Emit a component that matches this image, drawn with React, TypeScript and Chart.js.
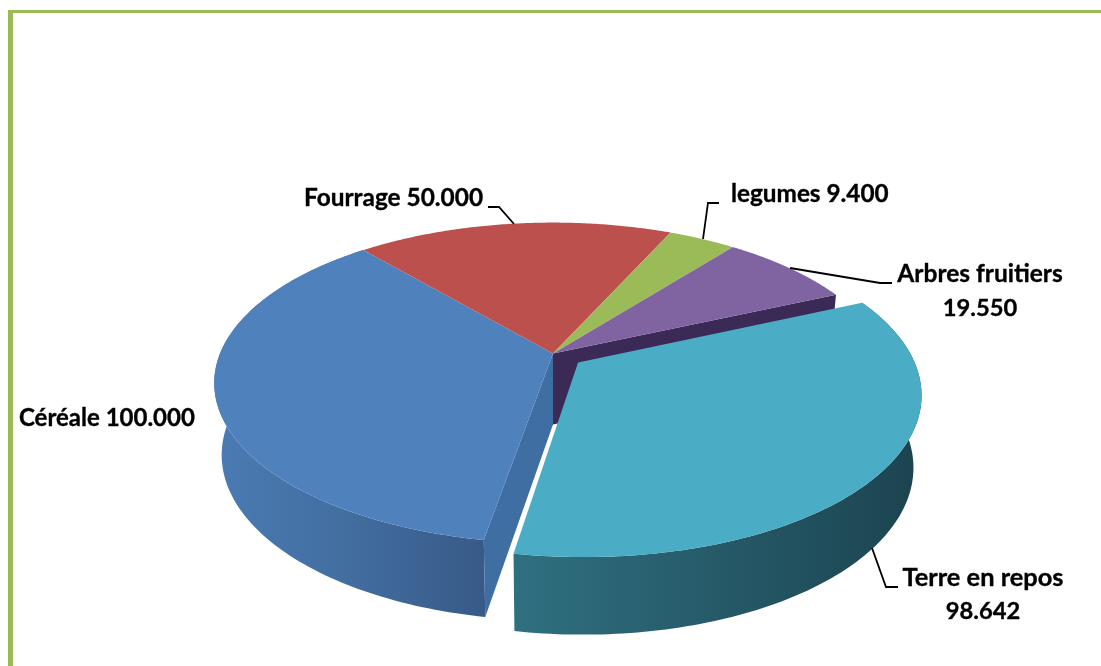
import React, { useEffect, useRef } from "react";
import { Chart, registerables } from "chart.js";

Chart.register(...registerables);

const categories = ["Céréale", "Fourrage", "legumes", "Arbres fruitiers", "Terre en repos"];
const values = [100000, 50000, 9400, 19550, 98642];
const valueLabels = ["100.000", "50.000", "9.400", "19.550", "98.642"];
const topColors = ["#4F81BD", "#BC504D", "#9BBB59", "#8064A2", "#4BACC6"];
const offsets = [0, 0, 0, 0, 30];

type Pt = [number, number];
const V = { cx: 553, cy: 353.5, A: 333, B: 155, p: 0.184, sx: 0.978, sy: 1.032, dy: 71 };

// The original's 3D view widens the upper-right of the disc: [true angle, seen angle] in degrees from the top.
const viewWarp: Pt[] = [[24.3, 24.3], [36.5, 38.2], [61.9, 66], [189.8, 189.8]];

const warp = (a: number) => {
  let t = ((a * 180) / Math.PI + 90) % 360;
  if (t < 0) t += 360;
  for (let i = 1; i < viewWarp.length; i++) {
    const [t0, w0] = viewWarp[i - 1];
    const [t1, w1] = viewWarp[i];
    if (t >= t0 && t <= t1) {
      const w = w0 + ((w1 - w0) * (t - t0)) / (t1 - t0);
      return ((w - t) * Math.PI) / 180 + a;
    }
  }
  return a;
};

const project = (u: number, v: number): Pt => {
  const w = 1 + V.p * v;
  return [V.cx + (V.A * u) / w, V.cy - (V.B * v) / w];
};
const lower = ([x, y]: Pt): Pt => [V.cx + V.sx * (x - V.cx), V.cy + V.dy + V.sy * (y - V.cy)];

const sliceGeom = (el: any) => {
  const a0 = el.startAngle;
  const a1 = el.endAngle;
  const mid = (warp(a0) + warp(a1 - 1e-6)) / 2;
  const d = (el.options.offset || 0) / el.outerRadius;
  const ox = d * Math.cos(mid);
  const oy = -d * Math.sin(mid);
  const apex = project(ox, oy);
  const arc: Pt[] = [];
  const n = 120;
  for (let i = 0; i <= n; i++) {
    const a = warp(a0 + ((a1 - a0) * (i === n ? n - 1e-4 : i === 0 ? 1e-4 : i)) / n);
    arc.push(project(ox + Math.cos(a), oy - Math.sin(a)));
  }
  return { apex, arc };
};

const fillPoly = (ctx: CanvasRenderingContext2D, pts: Pt[], fill: any) => {
  ctx.beginPath();
  pts.forEach(([x, y], i) => (i ? ctx.lineTo(x, y) : ctx.moveTo(x, y)));
  ctx.closePath();
  ctx.fillStyle = fill;
  ctx.fill();
};

const hGrad = (ctx: CanvasRenderingContext2D, x0: number, x1: number, stops: [number, string][]) => {
  const g = ctx.createLinearGradient(x0, 0, x1, 0);
  stops.forEach(([o, c]) => g.addColorStop(o, c));
  return g;
};

const pie3d = {
  id: "pie3d",
  beforeDatasetsDraw(chart: any) {
    const ctx: CanvasRenderingContext2D = chart.ctx;
    const geoms = chart.getDatasetMeta(0).data.map(sliceGeom);
    const [blue, , , purple, teal] = geoms;
    ctx.save();

    // Outer wall of Céréale
    fillPoly(ctx, [...blue.arc, ...blue.arc.map(lower).reverse()], hGrad(ctx, 215, 485, [
      [0, "#4A7BB3"], [0.45, "#436FA1"], [1, "#375A88"],
    ]));
    // Cut face of Céréale
    const bEnd = blue.arc[0];
    fillPoly(ctx, [blue.apex, lower(blue.apex), lower(bEnd), bEnd], "#3F6EA2");
    // Cut face of Arbres fruitiers
    const pEnd = purple.arc[purple.arc.length - 1];
    fillPoly(ctx, [purple.apex, pEnd, lower(pEnd), lower(purple.apex)], "#3B2A55");
    // Outer wall of Terre en repos
    fillPoly(ctx, [...teal.arc, ...teal.arc.map(lower).reverse()], hGrad(ctx, 515, 915, [
      [0, "#2F7080"], [0.5, "#265A69"], [1, "#1C4450"],
    ]));
    // Top faces
    geoms.forEach((g: any, i: number) => {
      fillPoly(ctx, [g.apex, ...g.arc], topColors[i]);
    });
    ctx.restore();
    return false;
  },
  afterDraw(chart: any) {
    const ctx: CanvasRenderingContext2D = chart.ctx;
    ctx.save();
    ctx.strokeStyle = "#000";
    ctx.lineWidth = 1.8;
    ctx.lineJoin = "miter";
    const leaders: Pt[][] = [
      [[488, 207], [499, 207], [514, 224]],
      [[719, 203], [708, 203], [703, 239]],
      [[790, 268], [880, 283], [892, 283]],
      [[872, 548], [886, 587], [898, 587]],
    ];
    leaders.forEach((l) => {
      ctx.beginPath();
      l.forEach(([x, y], i) => (i ? ctx.lineTo(x, y) : ctx.moveTo(x, y)));
      ctx.stroke();
    });
    ctx.fillStyle = "#000";
    ctx.strokeStyle = "#000";
    ctx.lineWidth = 0.35;
    ctx.textBaseline = "alphabetic";
    const put = (s: string, x: number, y: number, size: number, align: CanvasTextAlign) => {
      ctx.font = `bold ${size}px Lato`;
      ctx.textAlign = align;
      ctx.fillText(s, x, y);
      ctx.strokeText(s, x, y);
    };
    put(`${categories[0]} ${valueLabels[0]}`, 19, 426, 24, "left");
    put(`${categories[1]} ${valueLabels[1]}`, 304, 206, 24.4, "left");
    put(`${categories[2]} ${valueLabels[2]}`, 731, 202, 24.3, "left");
    put(categories[3], 980, 282, 24.5, "center");
    put(valueLabels[3], 980, 316, 23.7, "center");
    put(categories[4], 983, 586, 25.4, "center");
    put(valueLabels[4], 983, 619, 23.7, "center");
    ctx.restore();
  },
};

export default function App() {
  const ref = useRef<HTMLCanvasElement>(null);
  useEffect(() => {
    const chart = new Chart(ref.current!, {
      type: "pie",
      data: {
        labels: categories,
        datasets: [{ data: values, backgroundColor: topColors, borderWidth: 0, offset: offsets } as any],
      },
      options: {
        responsive: false,
        animation: false,
        rotation: 189.8,
        events: [],
        plugins: { legend: { display: false }, tooltip: { enabled: false } },
      },
      plugins: [pie3d],
    } as any);
    return () => chart.destroy();
  }, []);
  return (
    <div style={{ position: "absolute", left: 0, top: 0, width: 1101, height: 666, overflow: "hidden", background: "#fff" }}>
      <div style={{ position: "absolute", left: 8, top: 10, width: 1093, height: 656, boxSizing: "border-box", borderLeft: "5px solid #9BBB59", borderTop: "3px solid #9BBB59" }} />
      <canvas ref={ref} width={1101} height={666} style={{ position: "absolute", left: 0, top: 0, display: "block" }} />
    </div>
  );
}
